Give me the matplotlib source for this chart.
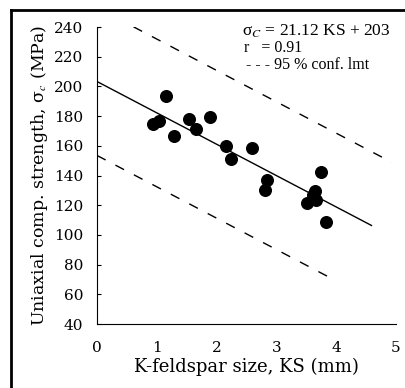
import matplotlib
matplotlib.use("Agg")
import matplotlib.pyplot as plt
from matplotlib.lines import Line2D
import numpy as np

# data
ks = [0.94, 1.04, 1.15, 1.29, 1.54, 1.66, 1.89, 2.15, 2.24, 2.60,
      2.84, 2.81, 3.51, 3.62, 3.65, 3.66, 3.75, 3.83]
sigma_c = [174.7, 176.9, 193.5, 166.6, 178.0, 171.3, 179.2, 159.9, 150.9, 158.7,
           137.0, 130.2, 121.3, 126.9, 129.8, 123.5, 142.6, 108.5]

# fitted line and 95 % confidence limits (intercept, slope, x range)
fit_b, fit_m = 203.3, -21.12
fit_x = [0.0, 4.59]
upper_b, upper_x = 253.0, [0.61, 4.93]
lower_b, lower_x = 153.5, [0.0, 3.98]

xticks = [0, 1, 2, 3, 4, 5]
yticks = [40, 60, 80, 100, 120, 140, 160, 180, 200, 220, 240]

plt.rcParams['font.family'] = ['DejaVu Serif']
plt.rcParams['mathtext.fontset'] = 'stix'
serif_narrow = ['Liberation Serif', 'DejaVu Serif']

fig = plt.figure(figsize=(4.06, 3.88), dpi=100)
ax = fig.add_axes((97 / 406, 1 - 324 / 388, 299 / 406, 297 / 388))

ax.scatter(ks, sigma_c, s=70, color='black', zorder=3)

x = np.array(fit_x)
ax.plot(x, fit_b + fit_m * x, color='black', lw=1.0)
x = np.array(upper_x)
ax.plot(x, upper_b + fit_m * x, color='black', lw=1.0, ls=(0, (7, 8)))
x = np.array(lower_x)
ax.plot(x, lower_b + fit_m * x, color='black', lw=1.0, ls=(0, (7, 8)))

ax.set_xlim(0, 5)
ax.set_ylim(40, 240)
ax.set_xticks(xticks)
ax.set_yticks(yticks)
ax.tick_params(direction='in', length=3, labelsize=11, width=0.8)
ax.tick_params(axis='y', pad=10)
ax.tick_params(axis='x', pad=12, length=0)
ax.spines['top'].set_visible(False)
ax.spines['right'].set_visible(False)

ax.set_xlabel('K-feldspar size, KS (mm)', fontsize=13, labelpad=2)
ax.set_ylabel('Uniaxial comp. strength, σ$_c$ (MPa)', fontsize=12.5, labelpad=3)

ax.text(0.485, 0.985, 'σ$_C$ = 21.12 KS + 203', transform=ax.transAxes,
        fontsize=12.5, va='center', family=serif_narrow)
ax.text(0.49, 0.928, 'r   = 0.91', transform=ax.transAxes, fontsize=11.5,
        va='center', family=serif_narrow)
ax.text(0.50, 0.872, '- - - 95 % conf. lmt', transform=ax.transAxes, fontsize=11.5,
        va='center', family=serif_narrow)

# frame of the scanned figure (left and top edges)
fig.add_artist(Line2D([11 / 406, 11 / 406], [0, 1 - 10 / 388], color='black', lw=2,
                      transform=fig.transFigure))
fig.add_artist(Line2D([11 / 406, 1], [1 - 10 / 388, 1 - 10 / 388], color='black', lw=2,
                      transform=fig.transFigure))

fig.savefig('out.png', dpi=100)
